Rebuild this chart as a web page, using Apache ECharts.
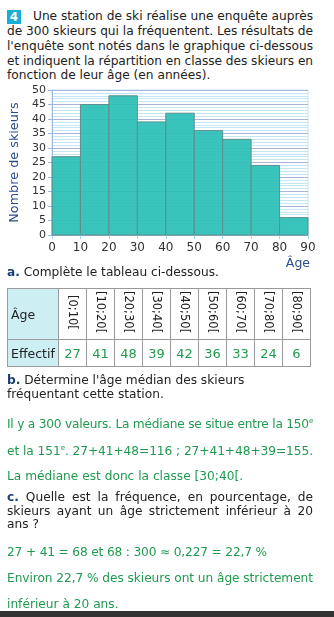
<!DOCTYPE html>
<html><head><meta charset="utf-8">
<script src="https://cdn.jsdelivr.net/npm/echarts@6/dist/echarts.min.js"></script>
<style>
html,body{margin:0;padding:0;width:334px;height:617px;overflow:hidden;background:#fff;font-family:"DejaVu Sans",sans-serif;color:#222;}
.ln{position:absolute;left:7px;font-size:12.2px;line-height:15px;white-space:nowrap;}
.g{color:#1f9a50;}
.lab{color:#1d3f74;font-weight:bold;}
#chart{position:absolute;left:0;top:82px;width:334px;height:190px;}
table{position:absolute;left:7px;top:288px;border-collapse:collapse;font-size:12.5px;}
td{border:1px solid #9a9a9a;padding:0;text-align:center;}
td.h{background:#cdeef2;text-align:left;padding-left:3px;width:47px;}
td.r{height:50px;width:27px;}
td.r span{writing-mode:vertical-rl;font-size:11.5px;display:inline-block;}
td.v{height:26px;color:#1f9a50;font-size:13px;}
.badge{position:absolute;left:7px;top:10px;width:14px;height:14px;background:#19aed6;color:#fff;font-weight:bold;font-size:12px;line-height:14px;text-align:center;}
.bar{position:absolute;left:0;top:611px;width:334px;height:6px;background:#333;}
</style></head><body>
<div class="badge">4</div>
<div class="ln" data-w="280" style="top:9px;left:33px;">Une station de ski réalise une enquête auprès</div>
<div class="ln" data-w="306" style="top:24px;">de 300 skieurs qui la fréquentent. Les résultats de</div>
<div class="ln" data-w="306" style="top:39px;">l'enquête sont notés dans le graphique ci-dessous</div>
<div class="ln" data-w="306" style="top:54px;">et indiquent la répartition en classe des skieurs en</div>
<div class="ln" style="top:68px;">fonction de leur âge (en années).</div>
<div id="chart"></div>
<div class="ln" style="top:265px;"><span class="lab">a.</span> Complète le tableau ci-dessous.</div>
<table id="tbl"></table>
<div class="ln" style="top:373px;"><span class="lab">b.</span> Détermine l'âge médian des skieurs</div>
<div class="ln" style="top:387px;">fréquentant cette station.</div>
<div class="ln g" data-w="306" style="top:414px;">Il y a 300 valeurs. La médiane se situe entre la 150<sup style="font-size:7px">e</sup></div>
<div class="ln g" data-w="306" style="top:441px;">et la 151<sup style="font-size:7px">e</sup>. 27+41+48=116 ; 27+41+48+39=155.</div>
<div class="ln g" style="top:469px;">La médiane est donc la classe [30;40[.</div>
<div class="ln" data-w="306" style="top:490px;"><span class="lab">c.</span> Quelle est la fréquence, en pourcentage, de</div>
<div class="ln" data-w="306" style="top:504px;">skieurs ayant un âge strictement inférieur à 20</div>
<div class="ln" style="top:517px;">ans ?</div>
<div class="ln g" data-w="260" style="top:545px;">27 + 41 = 68 et 68 : 300 ≈ 0,227 = 22,7 %</div>
<div class="ln g" data-w="306" style="top:571px;">Environ 22,7 % des skieurs ont un âge strictement</div>
<div class="ln g" style="top:597px;">inférieur à 20 ans.</div>
<div class="bar"></div>
<script>
var classStarts = [0,10,20,30,40,50,60,70,80];
var classWidth = 10;
var barCounts = [27,45,48,39,42,36,33,24,6];
var tableClasses = ["[0;10[","[10;20[","[20;30[","[30;40[","[40;50[","[50;60[","[60;70[","[70;80[","[80;90["];
var tableCounts = [27,41,48,39,42,36,33,24,6];

// fit lines to target widths
Array.prototype.forEach.call(document.querySelectorAll('.ln[data-w]'), function(el){
  var target = +el.getAttribute('data-w');
  var w = el.getBoundingClientRect().width;
  var txt = el.textContent;
  var spaces = (txt.match(/ /g)||[]).length;
  if (w > target) {
    el.style.letterSpacing = ((target - w) / txt.length) + 'px';
    w = el.getBoundingClientRect().width;
  }
  if (w < target && spaces > 0) {
    el.style.wordSpacing = ((target - w) / spaces) + 'px';
  }
});

var t = document.getElementById('tbl');
var r1 = '<tr><td class="h">Âge</td>' + tableClasses.map(function(c){return '<td class="r"><span>'+c+'</span></td>';}).join('') + '</tr>';
var r2 = '<tr><td class="h" style="height:26px">Effectif</td>' + tableCounts.map(function(v){return '<td class="v">'+v+'</td>';}).join('') + '</tr>';
t.innerHTML = r1 + r2;

var chart = echarts.init(document.getElementById('chart'));
var data = classStarts.map(function(s,i){return [s, s+classWidth, barCounts[i]];});
chart.setOption({
  animation:false,
  grid:{left:52,right:26,top:8,bottom:37,show:true,borderColor:'#bfe3f5',borderWidth:1},
  xAxis:{type:'value',min:0,max:90,interval:10,
    axisLine:{show:true,lineStyle:{color:'#9fb6dd'}},
    axisTick:{show:true,length:4,lineStyle:{color:'#9fd8ef'}},
    axisLabel:{color:'#333',fontSize:12,fontFamily:'DejaVu Sans',margin:7},
    splitLine:{show:false}},
  yAxis:{type:'value',min:0,max:50,interval:5,
    name:'Nombre de skieurs',nameLocation:'middle',nameGap:27,
    nameTextStyle:{color:'#2b4c8c',fontSize:12.8,fontFamily:'DejaVu Sans',padding:[0,0,0,0]},
    axisLine:{show:true,lineStyle:{color:'#9fb6dd'}},
    axisTick:{show:true,length:4,lineStyle:{color:'#9fb6dd'}},
    axisLabel:{color:'#333',fontSize:11,fontFamily:'DejaVu Sans',margin:6},
    splitLine:{show:true,lineStyle:{color:'#a9b6da',width:1}},
    minorTick:{show:false,splitNumber:5},
    minorSplitLine:{show:true,lineStyle:{color:'#c2e6f6',width:1}}},
  graphic:[{type:'text',right:24,bottom:2,style:{text:'Âge',fill:'#2b4c8c',fontSize:12.5,fontFamily:'DejaVu Sans'}}],
  series:[{type:'custom',data:data,encode:{x:[0,1],y:2},
    renderItem:function(params,api){
      var p0=api.coord([api.value(0),0]);
      var p1=api.coord([api.value(1),api.value(2)]);
      return {type:'rect',shape:{x:p0[0],y:p1[1],width:p1[0]-p0[0],height:p0[1]-p1[1]},
        style:{fill:'rgba(44,192,183,0.93)',stroke:'#5f8f8e',lineWidth:1}};
    }}]
});
</script>
</body></html>
